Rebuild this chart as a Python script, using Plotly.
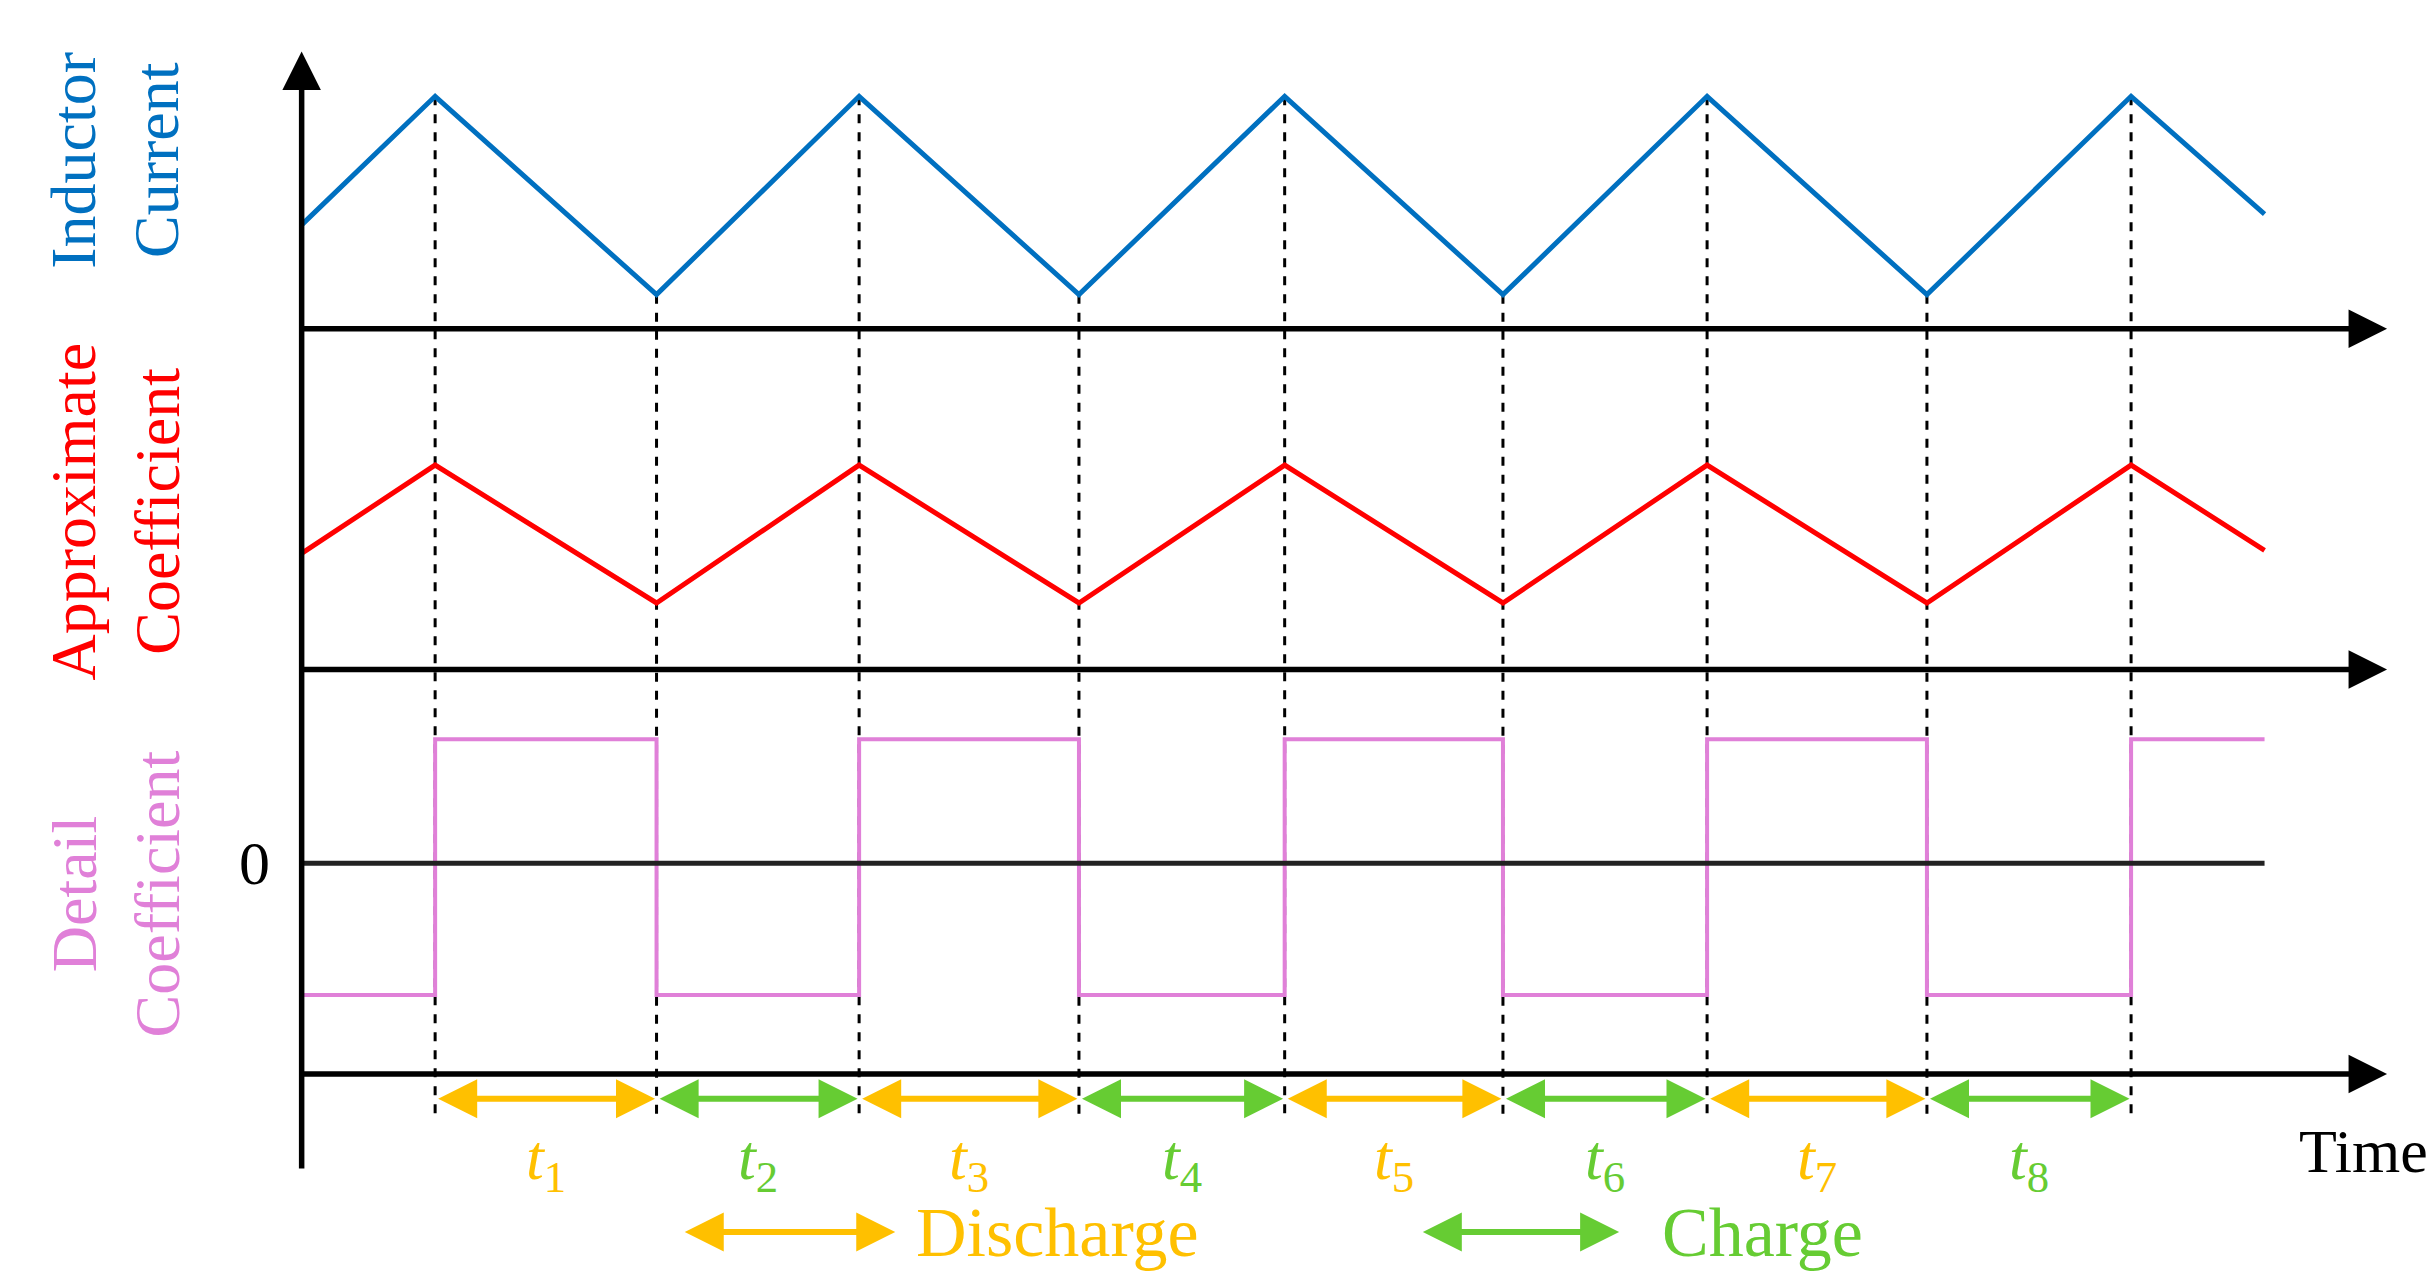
import plotly.graph_objects as go

# switching instants (time axis units) and waveform levels
t_start, t_end = 192, 1442
switch_t = [277, 418, 547, 687, 818, 957, 1087, 1227, 1357]
current_y = [140, 57, 185, 57, 185, 57, 185, 57, 185, 57, 133]
approx_y = [352, 295, 384, 295, 384, 295, 384, 295, 384, 295, 350]
detail_high, detail_low, detail_zero = 472, 637, 552
axis_rows = [207, 427, 688]
interval_labels = ["1", "2", "3", "4", "5", "6", "7", "8"]

ORANGE = "#FFC000"
GREEN = "#66CC33"
BLUE = "#0070C0"
RED = "#FF0000"
PINK = "#E080D8"
FONT = "Liberation Serif"

t_all = [t_start] + switch_t + [t_end]

fig = go.Figure()

# dashed switching lines
dx, dy = [], []
for t, y in zip(switch_t, current_y[1:-1]):
    dx += [t, t, None]
    dy += [y, 718, None]
fig.add_trace(go.Scatter(x=dx, y=dy, mode="lines",
                         line=dict(color="black", width=3, dash="dash")))

fig.add_trace(go.Scatter(x=t_all, y=current_y, mode="lines",
                         line=dict(color=BLUE, width=5)))
fig.add_trace(go.Scatter(x=t_all, y=approx_y, mode="lines",
                         line=dict(color=RED, width=5)))

# detail coefficient square wave
sx, sy = [t_start], [detail_low]
level = detail_low
for t in switch_t:
    sx.append(t); sy.append(level)
    level = detail_high if level == detail_low else detail_low
    sx.append(t); sy.append(level)
sx.append(t_end); sy.append(level)
fig.add_trace(go.Scatter(x=sx, y=sy, mode="lines", line=dict(color=PINK, width=4)))
fig.add_trace(go.Scatter(x=[t_start, t_end], y=[detail_zero, detail_zero], mode="lines",
                         line=dict(color="#222222", width=5)))

anns = []


def arrow(x0, y0, x1, y1, color, width, size, both=False):
    anns.append(dict(x=x1, y=y1, ax=x0, ay=y0, xref="x", yref="y", axref="x", ayref="y",
                     showarrow=True, arrowhead=2, arrowsize=size, arrowwidth=width,
                     arrowcolor=color, arrowside="end+start" if both else "end", text=""))


# horizontal axes and vertical axis
for y in axis_rows:
    arrow(t_start, y, 1520, y, "black", 5.5, 1.4)
arrow(t_start, 750, t_start, 28, "black", 5.5, 1.4)

# interval arrows and labels
for i, lab in enumerate(interval_labels):
    c = ORANGE if i % 2 == 0 else GREEN
    a, b = switch_t[i], switch_t[i + 1]
    arrow(a + 1, 704, b - 1, 704, c, 6, 1.3, both=True)
    anns.append(dict(x=(a + b) / 2, y=745, xref="x", yref="y", showarrow=False,
                     text=f"<i>t</i><sub>{lab}</sub>",
                     font=dict(family=FONT, size=64, color=c)))

# legend
arrow(435, 790, 570, 790, ORANGE, 6, 1.3, both=True)
arrow(905, 790, 1031, 790, GREEN, 6, 1.3, both=True)
anns.append(dict(x=582, y=790, xref="x", yref="y", showarrow=False, text="Discharge",
                 xanchor="left", font=dict(family=FONT, size=70, color=ORANGE)))
anns.append(dict(x=1057, y=790, xref="x", yref="y", showarrow=False, text="Charge",
                 xanchor="left", font=dict(family=FONT, size=70, color=GREEN)))
anns.append(dict(x=1505, y=738, xref="x", yref="y", showarrow=False, text="Time",
                 font=dict(family=FONT, size=62, color="black")))
anns.append(dict(x=162, y=552, xref="x", yref="y", showarrow=False, text="0",
                 font=dict(family=FONT, size=62, color="black")))

# rotated row titles
for (l1, l2, yc, col) in [("Inductor", "Current", 98, BLUE),
                          ("Approximate", "Coefficient", 325, RED),
                          ("Detail", "Coefficient", 572, PINK)]:
    for xx, txt in [(47, l1), (100, l2)]:
        anns.append(dict(x=xx, y=yc, xref="x", yref="y", showarrow=False, text=txt,
                         textangle=-90, font=dict(family=FONT, size=64, color=col)))

fig.update_layout(
    width=2434, height=1286, showlegend=False, annotations=anns,
    plot_bgcolor="white", paper_bgcolor="white",
    margin=dict(l=0, r=0, t=0, b=0),
    xaxis=dict(range=[5, 1555], visible=False, fixedrange=True),
    yaxis=dict(range=[830, 0], visible=False, fixedrange=True),
)

fig.write_html("out.html")
